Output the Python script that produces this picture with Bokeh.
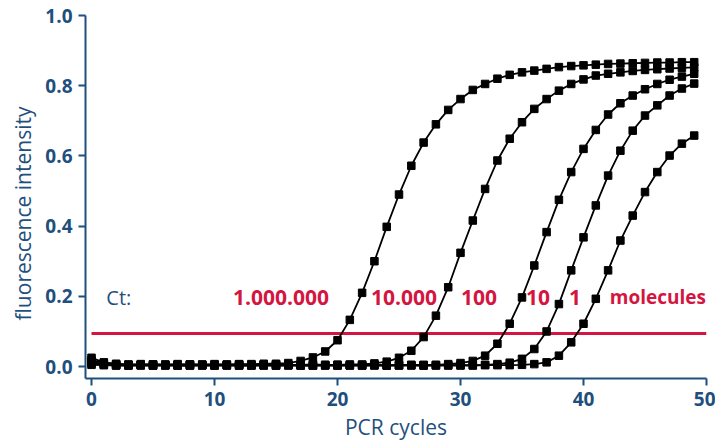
from bokeh.plotting import figure
from bokeh.models import Range1d, FixedTicker, PrintfTickFormatter, Title
from bokeh.embed import file_html
from bokeh.resources import INLINE
from bokeh.core.properties import value

# ---- data ----
cycles = list(range(50))

mol_1000000 = [0.025, 0.012, 0.008, 0.006, 0.007, 0.006, 0.006, 0.007, 0.006, 0.006,
               0.007, 0.006, 0.007, 0.007, 0.008, 0.008, 0.010, 0.016, 0.026, 0.043,
               0.075, 0.133, 0.210, 0.300, 0.398, 0.490, 0.572, 0.638, 0.690, 0.731,
               0.762, 0.788, 0.805, 0.820, 0.831, 0.838, 0.843, 0.848, 0.853, 0.856,
               0.858, 0.860, 0.862, 0.863, 0.864, 0.865, 0.866, 0.866, 0.867, 0.867]

mol_10000 = [0.018, 0.010, 0.006, 0.005, 0.005, 0.006, 0.005, 0.005, 0.006, 0.005,
             0.005, 0.005, 0.006, 0.005, 0.005, 0.006, 0.005, 0.005, 0.006, 0.005,
             0.005, 0.006, 0.006, 0.009, 0.014, 0.025, 0.045, 0.084, 0.145, 0.226,
             0.324, 0.416, 0.506, 0.587, 0.649, 0.696, 0.734, 0.762, 0.786, 0.805,
             0.818, 0.829, 0.834, 0.838, 0.842, 0.845, 0.847, 0.849, 0.851, 0.852]

mol_100 = [0.013, 0.007, 0.004, 0.004, 0.005, 0.004, 0.004, 0.004, 0.005, 0.004,
           0.004, 0.004, 0.005, 0.004, 0.004, 0.004, 0.005, 0.004, 0.004, 0.004,
           0.005, 0.004, 0.004, 0.005, 0.004, 0.004, 0.005, 0.005, 0.005, 0.007,
           0.010, 0.016, 0.031, 0.065, 0.122, 0.197, 0.288, 0.383, 0.475, 0.554,
           0.620, 0.674, 0.718, 0.750, 0.772, 0.790, 0.805, 0.817, 0.826, 0.834]

mol_10 = [0.009, 0.005, 0.004, 0.003, 0.004, 0.003, 0.004, 0.003, 0.003, 0.004,
          0.003, 0.004, 0.003, 0.003, 0.004, 0.003, 0.004, 0.003, 0.003, 0.004,
          0.003, 0.004, 0.003, 0.004, 0.003, 0.004, 0.004, 0.003, 0.004, 0.004,
          0.004, 0.004, 0.005, 0.007, 0.011, 0.022, 0.050, 0.100, 0.178, 0.274,
          0.368, 0.459, 0.544, 0.615, 0.672, 0.715, 0.744, 0.772, 0.792, 0.806]

mol_1 = [0.005, 0.004, 0.003, 0.003, 0.003, 0.003, 0.003, 0.003, 0.003, 0.003,
         0.003, 0.003, 0.003, 0.003, 0.003, 0.003, 0.003, 0.003, 0.003, 0.003,
         0.003, 0.003, 0.003, 0.003, 0.003, 0.003, 0.003, 0.003, 0.003, 0.003,
         0.003, 0.003, 0.004, 0.004, 0.004, 0.005, 0.007, 0.012, 0.031, 0.069,
         0.122, 0.193, 0.274, 0.359, 0.430, 0.497, 0.554, 0.601, 0.635, 0.658]

series = [mol_1000000, mol_10000, mol_100, mol_10, mol_1]

threshold = 0.094
threshold_x = [0, 50]

x_ticks = [0, 10, 20, 30, 40, 50]
y_ticks = [0.0, 0.2, 0.4, 0.6, 0.8, 1.0]

ct_text = "Ct:"
label_texts = ["1.000.000", "10.000", "100", "10", "1"]
label_x = [15.4, 25.4, 31.5, 36.3, 39.3]
label_y = [0.197] * len(label_texts)
unit_text = "molecules"
unit_x = 46.05

# ---- style ----
BLUE = "#1f4f7d"
RED = "#d4153f"
FONT = "Open Sans"

p = figure(width=715, height=446, output_backend="svg", toolbar_location=None,
           x_range=Range1d(-0.49, 50), y_range=Range1d(-0.034, 1.0),
           min_border_left=85, min_border_right=9, min_border_top=15,
           min_border_bottom=68)
p.outline_line_color = None
p.grid.visible = False
p.background_fill_color = "white"
p.border_fill_color = "white"

for ax in (p.xaxis[0], p.yaxis[0]):
    ax.axis_line_color = BLUE
    ax.axis_line_width = 2
    ax.major_tick_line_color = BLUE
    ax.major_tick_line_width = 2
    ax.major_tick_in = 0
    ax.major_tick_out = 7
    ax.minor_tick_line_color = None
    ax.major_label_text_color = BLUE
    ax.major_label_text_font = FONT
    ax.major_label_text_font_style = "bold"
    ax.major_label_text_font_size = "19px"

p.xaxis.ticker = FixedTicker(ticks=x_ticks)
p.yaxis.ticker = FixedTicker(ticks=y_ticks)
p.yaxis.formatter = PrintfTickFormatter(format="%.1f")
p.xaxis.major_label_standoff = 6
p.yaxis.major_label_standoff = 6

p.xaxis.axis_label = "PCR cycles"
p.xaxis.axis_label_text_color = BLUE
p.xaxis.axis_label_text_font = FONT
p.xaxis.axis_label_text_font_style = "normal"
p.xaxis.axis_label_text_font_size = "21px"
p.xaxis.axis_label_standoff = 4

ytitle = Title(text="fluorescence intensity", align="left", offset=58,
               standoff=12, text_color=BLUE, text_font=FONT,
               text_font_style="normal", text_font_size="21px")
p.add_layout(ytitle, "left")

# threshold line
p.line(threshold_x, [threshold, threshold], line_color=RED, line_width=3)

# amplification curves
for ys in series:
    p.line(cycles, ys, line_color="black", line_width=1.8)
    p.scatter(cycles, ys, marker="square", size=7.5, fill_color="black",
              line_color="black")

# labels
p.text(x=[1.2], y=[0.197], text=[ct_text], text_color=BLUE,
       text_font=value(FONT), text_font_size="20px", text_align="left",
       text_baseline="middle")
p.text(x=label_x, y=label_y, text=label_texts, text_color=RED,
       text_font=value(FONT), text_font_style="bold", text_font_size="21px",
       text_align="center", text_baseline="middle")
p.text(x=[unit_x], y=[label_y[0]], text=[unit_text], text_color=RED,
       text_font=value(FONT), text_font_style="bold", text_font_size="19px",
       text_align="center", text_baseline="middle")

open("out.html", "w").write(file_html(p, INLINE))
